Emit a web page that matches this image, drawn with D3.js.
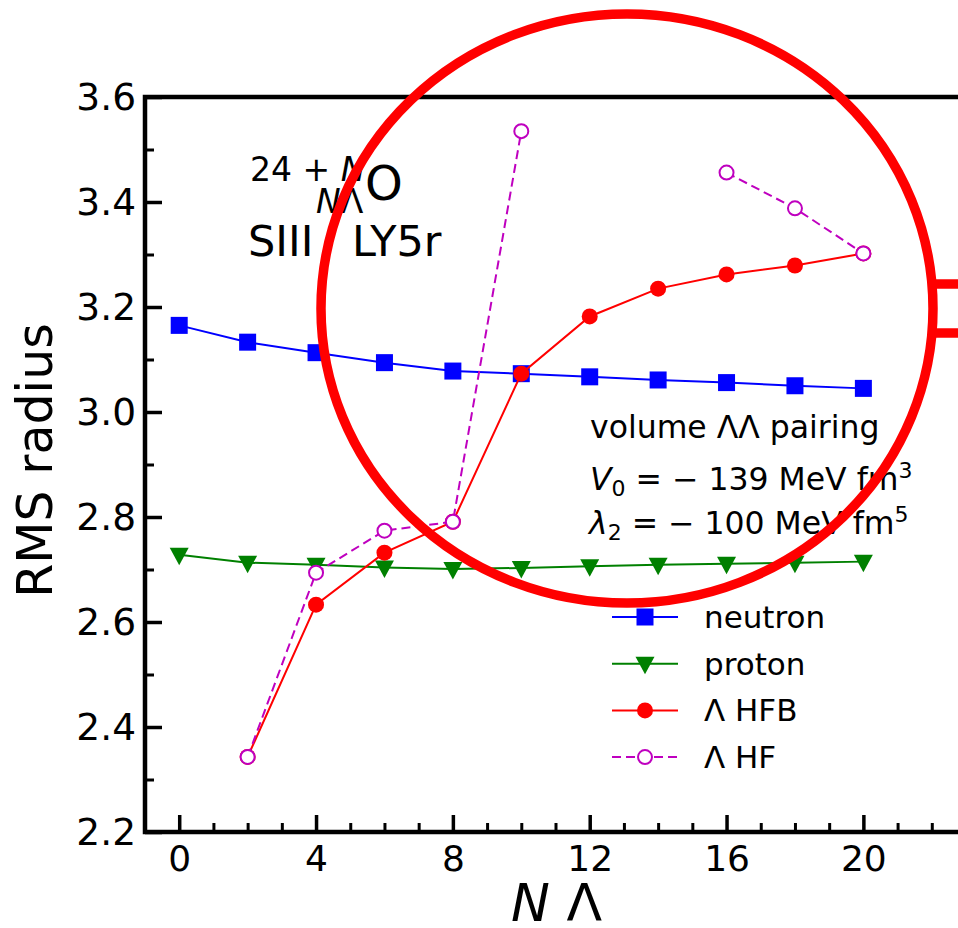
<!DOCTYPE html>
<html>
<head>
<meta charset="utf-8">
<script src="https://cdn.jsdelivr.net/npm/d3@7"></script>
<style>
  body { margin: 0; background: #fff; }
  text { font-family: "DejaVu Sans", sans-serif; fill: #000; }
</style>
</head>
<body>
<svg id="chart" width="958" height="928"></svg>
<script>
// Number of Lambda hyperons
const nLambda = [0, 2, 4, 6, 8, 10, 12, 14, 16, 18, 20];
// RMS radii (fm)
const neutronR = [3.165, 3.133, 3.113, 3.094, 3.078, 3.073, 3.067, 3.061, 3.056, 3.050, 3.045];
const protonR  = [2.728, 2.713, 2.709, 2.704, 2.701, 2.703, 2.706, 2.709, 2.711, 2.713, 2.715];
const lambdaHFB = [null, 2.343, 2.633, 2.732, 2.791, 3.073, 3.182, 3.235, 3.262, 3.279, 3.302];
const lambdaHF  = [null, 2.343, 2.694, 2.774, 2.791, 3.535, null, null, 3.456, 3.388, 3.302];

const xMajorTicks = [0, 4, 8, 12, 16, 20];
const yMajorTicks = [2.2, 2.4, 2.6, 2.8, 3.0, 3.2, 3.4, 3.6];

const series = [
  { name: "neutron", values: neutronR, color: "#0000ff", marker: "square", dash: null, fill: "#0000ff" },
  { name: "proton", values: protonR, color: "#008000", marker: "tri", dash: null, fill: "#008000" },
  { name: "\u039b HFB", values: lambdaHFB, color: "#ff0000", marker: "circle", dash: null, fill: "#ff0000" },
  { name: "\u039b HF", values: lambdaHF, color: "#bf00bf", marker: "circle", dash: "9,5", fill: "#ffffff" }
];

const svg = d3.select("#chart");
const mLeft = 145, mRight = 966, mTop = 97, mBottom = 832;

const x = d3.scaleLinear().domain([-1, 23]).range([mLeft, mRight]);
const y = d3.scaleLinear().domain([2.2, 3.6]).range([mBottom, mTop]);

// ---- axes ----
const xMinor = d3.range(-1, 24, 1).filter(v => !xMajorTicks.includes(v));
const yMinor = d3.range(22, 37, 1).map(v => v / 10).filter(v => !yMajorTicks.some(t => Math.abs(t - v) < 1e-9));

function styleAxis(g, width) {
  g.select(".domain").remove();
  g.selectAll(".tick line").attr("stroke", "#000").attr("stroke-width", width);
}

svg.append("g").attr("transform", `translate(0,${mBottom})`)
  .call(d3.axisBottom(x).tickValues(xMinor).tickSize(-9).tickFormat(""))
  .call(g => styleAxis(g, 3));
svg.append("g").attr("transform", `translate(0,${mBottom})`)
  .call(d3.axisBottom(x).tickValues(xMajorTicks).tickSize(-17).tickPadding(13).tickFormat(d3.format("d")))
  .call(g => styleAxis(g, 3.5))
  .call(g => g.selectAll("text").attr("font-size", 36).attr("fill", "#000"));

svg.append("g").attr("transform", `translate(${mLeft},0)`)
  .call(d3.axisLeft(y).tickValues(yMinor).tickSize(-9).tickFormat(""))
  .call(g => styleAxis(g, 3));
svg.append("g").attr("transform", `translate(${mLeft},0)`)
  .call(d3.axisLeft(y).tickValues(yMajorTicks).tickSize(-17).tickPadding(9).tickFormat(d3.format(".1f")))
  .call(g => styleAxis(g, 3.5))
  .call(g => g.selectAll("text").attr("font-size", 37.5).attr("fill", "#000"));

// spines
svg.append("rect").attr("x", mLeft).attr("y", mTop)
  .attr("width", mRight - mLeft).attr("height", mBottom - mTop)
  .attr("stroke", "#000").attr("stroke-width", 4.5).attr("fill", "none");

// axis labels
svg.append("text")
  .attr("transform", `translate(52,${(mTop + mBottom) / 2 - 4}) rotate(-90)`)
  .attr("text-anchor", "middle").attr("font-size", 49)
  .text("RMS radius");

const xl = svg.append("text").attr("x", (mLeft + mRight) / 2 + 1).attr("y", 921)
  .attr("text-anchor", "middle").attr("font-size", 52);
xl.append("tspan").attr("font-style", "italic").text("N");
xl.append("tspan").text(" \u039b");

// ---- series ----
const plot = svg.append("g");
const pts = v => v.map((d, i) => ({ x: nLambda[i], y: d }));
const line = d3.line().defined(d => d.y != null).x(d => x(d.x)).y(d => y(d.y));

function drawMarker(g, type, cx, cy, color, fill) {
  if (type === "square") {
    g.append("rect").attr("x", cx - 8.5).attr("y", cy - 8.5).attr("width", 17).attr("height", 17)
      .attr("fill", fill);
  } else if (type === "tri") {
    g.append("path").attr("d", `M${cx - 9.5},${cy - 7} L${cx + 9.5},${cy - 7} L${cx},${cy + 10.5} Z`)
      .attr("fill", fill);
  } else {
    g.append("circle").attr("cx", cx).attr("cy", cy).attr("r", fill === "#ffffff" ? 7 : 8)
      .attr("fill", fill).attr("stroke", color).attr("stroke-width", fill === "#ffffff" ? 2 : 0);
  }
}

series.forEach(s => {
  const data = pts(s.values);
  plot.append("path").datum(data).attr("d", line)
    .attr("fill", "none").attr("stroke", s.color).attr("stroke-width", 2)
    .attr("stroke-dasharray", s.dash);
  const mg = plot.append("g");
  data.filter(d => d.y != null).forEach(d => drawMarker(mg, s.marker, x(d.x), y(d.y), s.color, s.fill));
});

// ---- legend ----
const legend = svg.append("g");
series.forEach((s, i) => {
  const ly = 617 + i * 46.7;
  legend.append("line").attr("x1", 612).attr("x2", 678).attr("y1", ly).attr("y2", ly)
    .attr("stroke", s.color).attr("stroke-width", 2).attr("stroke-dasharray", s.dash);
  drawMarker(legend, s.marker, 645, ly, s.color, s.fill);
  legend.append("text").attr("x", 704).attr("y", ly + 11).attr("font-size", 31).text(s.name);
});

// ---- annotations ----
// nucleus symbol with mass number and Lambda count
svg.append("text").attr("x", 250).attr("y", 181).attr("font-size", 33)
  .call(t => { t.append("tspan").text("24 + "); t.append("tspan").attr("font-style", "italic").text("N"); });
svg.append("text").attr("x", 316).attr("y", 213).attr("font-size", 33)
  .call(t => { t.append("tspan").attr("font-style", "italic").text("N"); t.append("tspan").text("\u039b"); });
svg.append("text").attr("x", 365).attr("y", 200).attr("font-size", 48).text("O");
svg.append("text").attr("x", 248).attr("y", 256).attr("font-size", 43).text("SIII");
svg.append("text").attr("x", 352).attr("y", 256).attr("font-size", 43).text("LY5r");

// pairing parameters
svg.append("text").attr("x", 590).attr("y", 438).attr("font-size", 31.5).text("volume \u039b\u039b pairing");
const v0 = svg.append("text").attr("x", 590).attr("y", 490).attr("font-size", 31.5);
v0.append("tspan").attr("font-style", "italic").text("V");
v0.append("tspan").attr("font-size", 22).attr("dy", 6).text("0");
v0.append("tspan").attr("dy", -6).text(" = \u2212 139 MeV fm");
v0.append("tspan").attr("font-size", 22).attr("dy", -12).text("3");
const l2 = svg.append("text").attr("x", 589).attr("y", 534).attr("font-size", 31.5);
l2.append("tspan").attr("font-style", "italic").text("\u03bb");
l2.append("tspan").attr("font-size", 22).attr("dy", 6).text("2");
l2.append("tspan").attr("dy", -6).text(" = \u2212 100 MeV fm");
l2.append("tspan").attr("font-size", 22).attr("dy", -12).text("5");

// red highlight ring with connector
const hl = svg.append("g").attr("stroke", "#ff0000").attr("stroke-width", 9.5).attr("fill", "none");
hl.append("ellipse").attr("cx", 627).attr("cy", 308.5).attr("rx", 306).attr("ry", 294.5);
hl.append("line").attr("x1", 932).attr("x2", 960).attr("y1", 284).attr("y2", 284);
hl.append("line").attr("x1", 932).attr("x2", 960).attr("y1", 333).attr("y2", 333);
</script>
</body>
</html>
